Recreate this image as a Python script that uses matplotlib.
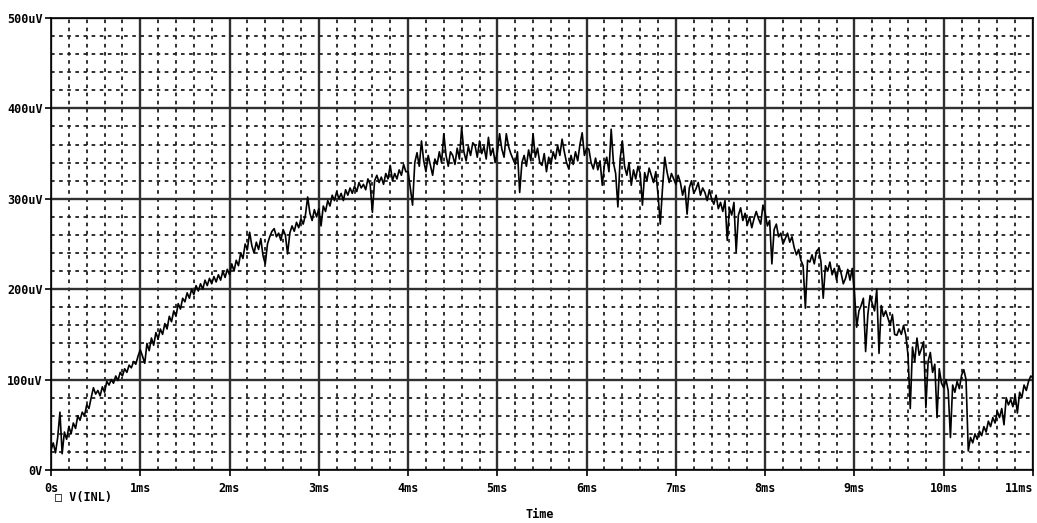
import numpy as np
import matplotlib
matplotlib.use("Agg")
import matplotlib.pyplot as plt
from matplotlib.ticker import MultipleLocator

# ---- data (uV), sampled every 0.025 ms from 0 to 11 ms ----
t_step_ms = 0.025
v_uV = [
    22, 30, 19, 36, 64, 18, 42, 34, 48, 40, 52, 46, 60, 55, 64, 60, 72, 68, 80, 91,
    84, 88, 82, 92, 86, 98, 94, 100, 96, 104, 99, 108, 104, 112, 108, 116, 113, 120, 117, 126,
    133, 126, 118, 140, 132, 146, 138, 152, 145, 156, 150, 162, 156, 170, 164, 176, 170, 184, 178, 190,
    186, 196, 190, 200, 194, 204, 198, 206, 200, 210, 204, 212, 206, 214, 208, 216, 210, 220, 213, 222,
    216, 228, 220, 232, 226, 240, 234, 250, 244, 263, 248, 240, 252, 244, 256, 237, 228, 250, 258, 264,
    267, 258, 262, 254, 266, 260, 239, 262, 270, 264, 274, 268, 278, 272, 282, 302, 284, 276, 288, 280,
    289, 270, 292, 286, 298, 292, 304, 298, 308, 300, 306, 298, 310, 304, 312, 306, 314, 308, 318, 312,
    316, 310, 322, 316, 285, 320, 326, 318, 324, 316, 328, 322, 337, 320, 328, 322, 332, 326, 338, 330,
    330, 312, 293, 340, 351, 336, 364, 342, 330, 348, 337, 326, 344, 338, 352, 340, 372, 348, 336, 352,
    348, 338, 356, 344, 379, 352, 342, 358, 348, 362, 359, 346, 364, 350, 358, 344, 368, 348, 356, 340,
    352, 372, 355, 346, 372, 358, 350, 344, 338, 352, 307, 340, 348, 336, 354, 342, 372, 346, 356, 340,
    337, 350, 330, 346, 338, 352, 344, 359, 348, 366, 352, 340, 333, 348, 338, 352, 342, 360, 373, 348,
    356, 355, 340, 333, 345, 332, 342, 315, 338, 346, 330, 377, 340, 328, 291, 344, 364, 336, 326, 340,
    315, 332, 322, 336, 328, 293, 329, 320, 334, 326, 318, 330, 304, 272, 312, 346, 330, 318, 328, 322,
    316, 326, 318, 304, 314, 283, 312, 320, 306, 311, 318, 304, 312, 307, 298, 310, 300, 294, 304, 289,
    296, 286, 298, 254, 290, 282, 296, 241, 282, 290, 276, 284, 271, 280, 268, 278, 286, 278, 272, 293,
    284, 270, 276, 228, 266, 272, 258, 262, 250, 256, 262, 252, 258, 246, 238, 244, 232, 226, 179, 232,
    230, 238, 228, 242, 245, 230, 190, 226, 220, 230, 216, 223, 210, 226, 218, 206, 212, 222, 210, 223,
    196, 158, 176, 182, 190, 131, 172, 193, 184, 176, 200, 129, 182, 170, 176, 168, 160, 172, 150, 149,
    156, 150, 160, 149, 127, 68, 136, 120, 146, 127, 134, 142, 69, 120, 130, 108, 117, 58, 112, 96,
    91, 100, 88, 36, 94, 86, 98, 90, 105, 111, 100, 21, 36, 30, 40, 34, 43, 38, 48, 42,
    54, 48, 58, 52, 65, 58, 68, 50, 80, 72, 78, 70, 83, 63, 86, 80, 94, 88, 98, 104,
    102,
]
x_ticks_ms = [0, 1, 2, 3, 4, 5, 6, 7, 8, 9, 10, 11]
x_tick_labels = ["0s", "1ms", "2ms", "3ms", "4ms", "5ms", "6ms", "7ms", "8ms", "9ms", "10ms", "11ms"]
y_ticks_uV = [0, 100, 200, 300, 400, 500]
y_tick_labels = ["0V", "100uV", "200uV", "300uV", "400uV", "500uV"]
trace_name = "V(INL)"
x_label = "Time"

t_ms = np.arange(len(v_uV)) * t_step_ms

FONT = dict(family="DejaVu Sans Mono", weight="bold", size=8.5)

fig = plt.figure(figsize=(10.37, 5.23), dpi=100)
ax = fig.add_axes([51 / 1037, 53 / 523, 982 / 1037, 452 / 523])

ax.set_xlim(0, 11)
ax.set_ylim(0, 500)

ax.xaxis.set_minor_locator(MultipleLocator(0.2))
ax.yaxis.set_minor_locator(MultipleLocator(20))
ax.set_xticks(x_ticks_ms)
ax.set_xticklabels(x_tick_labels, **FONT)
ax.set_yticks(y_ticks_uV)
ax.set_yticklabels(y_tick_labels, **FONT)
# last x label sits flush with the right edge, as in the reference
ax.get_xticklabels()[-1].set_horizontalalignment("right")
ax.get_xticklabels()[-1].set_x(11)

ax.grid(which="major", color="#303030", linewidth=1.7, linestyle="-")
ax.grid(which="minor", color="#202020", linewidth=1.3, linestyle=(0, (2, 2.5)))
ax.set_axisbelow(True)

ax.tick_params(which="major", direction="out", length=4, width=1.2, color="black", pad=2)
ax.tick_params(which="minor", length=0)
ax.tick_params(axis="x", pad=5)

for s in ax.spines.values():
    s.set_color("black")
    s.set_linewidth(1.2)

ax.plot(t_ms, v_uV, color="black", linewidth=1.2, zorder=3)

# legend-like label and axis title, PSpice style
fig.text(55 / 1037, 1 - 498 / 523, "\u25a1 " + trace_name, ha="left", va="center", **FONT)
fig.text(540 / 1037, 1 - 515 / 523, x_label, ha="center", va="center", **FONT)

fig.savefig("out.png", dpi=100)
